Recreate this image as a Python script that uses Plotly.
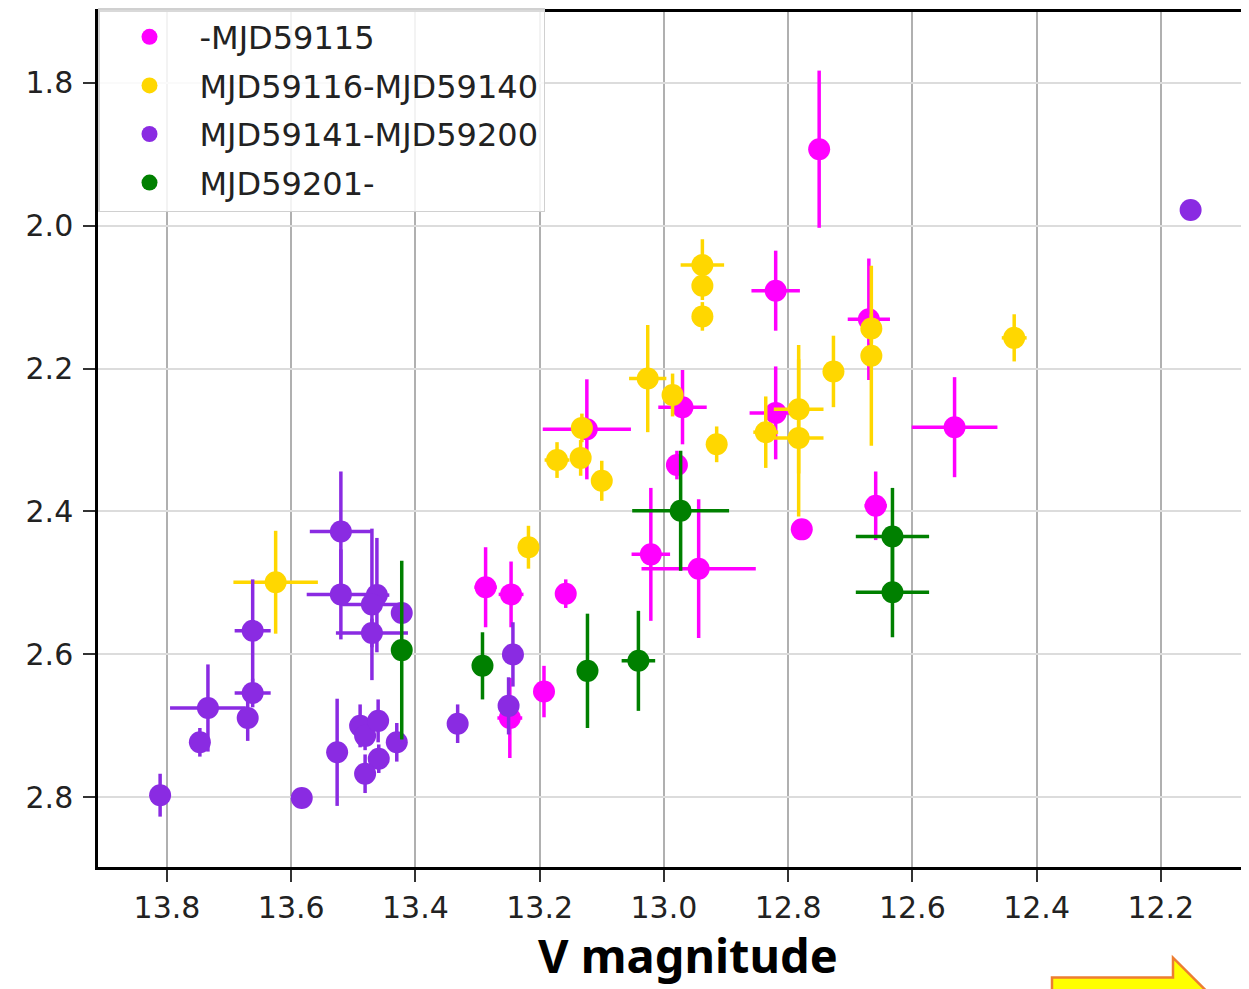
import plotly.graph_objects as go

# ---- data (V magnitude vs colour index) ----
labels = ["-MJD59115", "MJD59116-MJD59140", "MJD59141-MJD59200", "MJD59201-"]
colors = ["#ff00ff", "#ffd700", "#8a2be2", "#008000"]

mag_x = [12.75, 12.82, 12.67, 12.97, 12.82, 13.124, 12.979, 12.532, 12.659, 12.778,
         13.021, 12.944, 13.287, 13.246, 13.158, 13.193, 13.248]
mag_y = [1.893, 2.091, 2.131, 2.254, 2.262, 2.285, 2.335, 2.282, 2.392, 2.425,
         2.460, 2.480, 2.506, 2.516, 2.515, 2.652, 2.689]
mag_xerr = [0, 0.039, 0.034, 0.039, 0.042, 0.071, 0, 0.069, 0.018, 0,
            0.031, 0.092, 0.018, 0.02, 0, 0, 0.02]
mag_yerr = [0.11, 0.056, 0.085, 0.052, 0.065, 0.07, 0.02, 0.07, 0.048, 0,
            0.093, 0.097, 0.056, 0.046, 0.02, 0.036, 0.056]

yel_x = [12.938, 12.938, 12.938, 12.436, 12.666, 12.666, 12.727, 12.783, 12.783, 12.836,
         12.915, 12.986, 13.026, 13.132, 13.172, 13.134, 13.10, 13.218, 13.625]
yel_y = [2.055, 2.084, 2.127, 2.157, 2.144, 2.182, 2.204, 2.257, 2.297, 2.289,
         2.306, 2.237, 2.214, 2.283, 2.328, 2.325, 2.357, 2.450, 2.499]
yel_xerr = [0.035, 0, 0, 0.02, 0, 0, 0, 0.04, 0.04, 0.02,
            0, 0, 0.03, 0, 0.02, 0, 0, 0, 0.068]
yel_yerr = [0.036, 0.02, 0.02, 0.033, 0.02, 0.126, 0.05, 0.09, 0.11, 0.05,
            0.025, 0.03, 0.075, 0.02, 0.025, 0.025, 0.028, 0.03, 0.072]

pur_x = [13.811, 13.747, 13.734, 13.67, 13.662, 13.662, 13.583, 13.526, 13.52, 13.52,
         13.462, 13.47, 13.47, 13.422, 13.489, 13.481, 13.46, 13.43, 13.459, 13.481,
         13.332, 13.243, 13.25, 12.152]
pur_y = [2.797, 2.723, 2.675, 2.689, 2.567, 2.654, 2.801, 2.737, 2.428, 2.516,
         2.517, 2.530, 2.570, 2.542, 2.700, 2.714, 2.693, 2.723, 2.746, 2.767,
         2.697, 2.600, 2.672, 1.978]
pur_xerr = [0, 0, 0.061, 0, 0.029, 0.029, 0, 0, 0.05, 0.055,
            0.02, 0.048, 0.058, 0, 0, 0, 0, 0, 0, 0,
            0, 0, 0, 0]
pur_yerr = [0.03, 0.02, 0.061, 0.032, 0.072, 0.02, 0, 0.075, 0.084, 0.063,
            0.08, 0.106, 0.02, 0, 0.03, 0.02, 0.03, 0.027, 0.02, 0.027,
            0.027, 0.045, 0.04, 0]

grn_x = [13.422, 13.292, 13.123, 13.041, 12.973, 12.632, 12.632]
grn_y = [2.594, 2.616, 2.623, 2.609, 2.399, 2.435, 2.513]
grn_xerr = [0, 0, 0, 0.027, 0.078, 0.059, 0.059]
grn_yerr = [0.125, 0.047, 0.08, 0.07, 0.084, 0.068, 0.063]

x_ticks = [13.8, 13.6, 13.4, 13.2, 13.0, 12.8, 12.6, 12.4, 12.2]
y_ticks = [1.8, 2.0, 2.2, 2.4, 2.6, 2.8]

series = [
    (mag_x, mag_y, mag_xerr, mag_yerr),
    (yel_x, yel_y, yel_xerr, yel_yerr),
    (pur_x, pur_y, pur_xerr, pur_yerr),
    (grn_x, grn_y, grn_xerr, grn_yerr),
]

fig = go.Figure()
for i, (sx, sy, sxe, sye) in enumerate(series):
    fig.add_trace(go.Scatter(
        x=sx, y=sy, mode="markers", name=labels[i], legendgroup=labels[i],
        marker=dict(color=colors[i], size=22, line=dict(width=0)),
        error_x=dict(type="data", array=sxe, visible=True, color=colors[i], thickness=3.5, width=0),
        error_y=dict(type="data", array=sye, visible=True, color=colors[i], thickness=3.5, width=0),
    ))

# page offset (body margin) compensation: figure starts at page (8, 8)
OFF = 8
W, H = 1249 - OFF, 989 - OFF
L, R, T, B = 98 - OFF, 0, 8 - OFF + 1, 989 - 867
pw, ph = W - L - R, H - T - B


def px(x):
    return (x - OFF - L) / pw


def py(y):
    return (H - B - (y - OFF)) / ph


# decorative yellow arrow (partly cut at bottom-right of the slide)
arrow_pts = [(1052, 978), (1173, 978), (1173, 958), (1215, 1000), (1173, 1042), (1173, 1022), (1052, 1022)]
path = "M " + " L ".join(f"{px(a):.5f},{py(b):.5f}" for a, b in arrow_pts) + " Z"

fig.update_layout(
    width=W, height=H,
    margin=dict(l=L, r=R, t=T, b=B),
    paper_bgcolor="white", plot_bgcolor="white",
    font=dict(family="DejaVu Sans", size=30, color="#222222"),
    showlegend=True,
    legend=dict(
        x=0.0, y=1.0 + 4 / ph, xanchor="left", yanchor="top",
        bgcolor="rgba(255,255,255,0.85)", bordercolor="#d0d0d0", borderwidth=1.5,
        font=dict(family="DejaVu Sans", size=32, color="#222222"),
        tracegroupgap=4, itemsizing="trace", itemwidth=90,
    ),
    xaxis=dict(
        range=[13.911, 12.058], tickvals=x_ticks, ticktext=[f"{v:.1f}" for v in x_ticks],
        showgrid=True, gridcolor="#b0b0b0", gridwidth=2,
        showline=True, linecolor="black", linewidth=2.5, mirror=True,
        ticks="outside", ticklen=12, tickwidth=1.5, tickcolor="#333333",
        zeroline=False,
    ),
    yaxis=dict(
        range=[2.8975, 1.701], tickvals=y_ticks, ticktext=[f"{v:.1f}" for v in y_ticks],
        showgrid=True, gridcolor="#dcdcdc", gridwidth=2,
        showline=True, linecolor="black", linewidth=2.5, mirror=False,
        ticks="outside", ticklen=12, tickwidth=1.5, tickcolor="#333333",
        ticklabelstandoff=4, zeroline=False,
    ),
    annotations=[dict(
        text="<b>V magnitude</b>", xref="paper", yref="paper",
        x=px(688), y=py(955), xanchor="center", yanchor="middle",
        borderpad=0,
        showarrow=False, font=dict(family="Noto Sans", size=47, color="black"),
    )],
    shapes=[dict(
        type="path", path=path, xref="paper", yref="paper",
        fillcolor="#ffff00", line=dict(color="#ed7d31", width=2.5), layer="above",
    )],
)

fig.write_html("out.html")
